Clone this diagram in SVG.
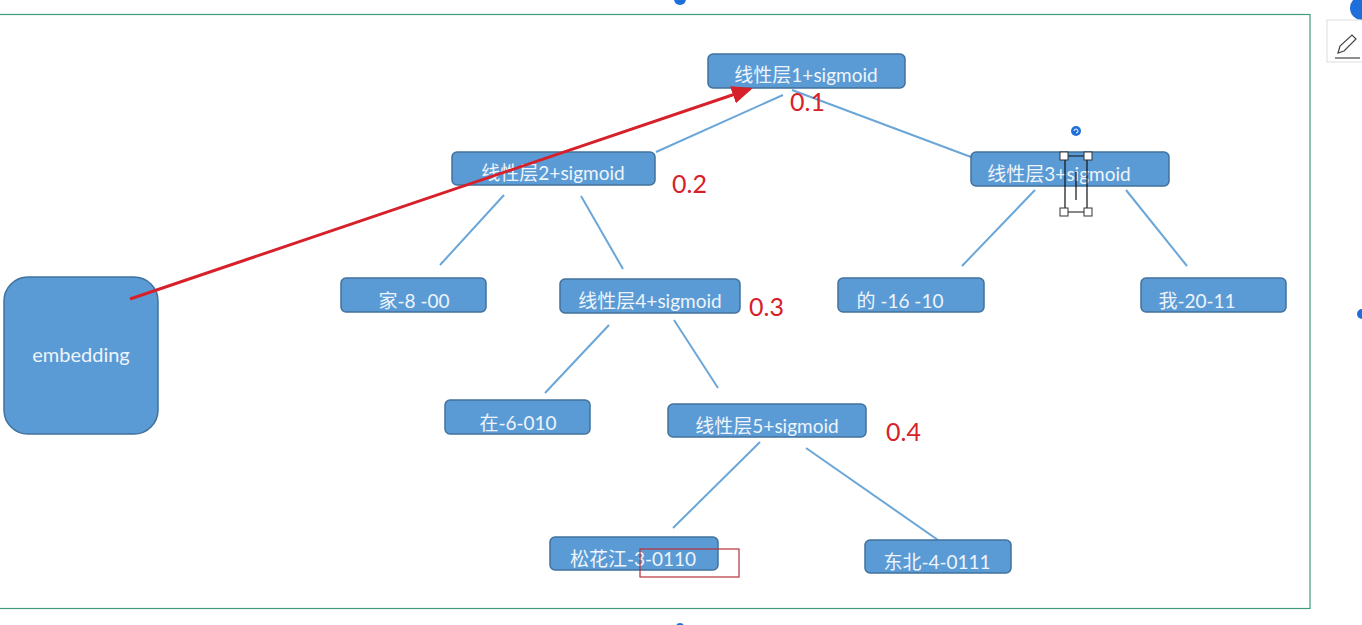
<svg xmlns="http://www.w3.org/2000/svg" width="1362" height="625" viewBox="0 0 1362 625">
<style>
.n{fill:#5b9bd5;stroke:#41719c;stroke-width:1.5}
.t{fill:#eef4fb;font-family:Lato,"Noto Sans CJK SC",sans-serif;font-size:19px;text-anchor:middle}
.c{stroke:#6aa6d8;stroke-width:2;fill:none}
.p{fill:#d7212a;font-family:Lato,"Liberation Sans",sans-serif;font-size:25px}
.h{fill:#fff;stroke:#333;stroke-width:1}
</style>
<defs>
<marker id="ah" markerWidth="7" markerHeight="6" refX="6" refY="3" orient="auto" markerUnits="strokeWidth">
<path d="M0,0 L7,3 L0,6 z" fill="#d7212a"/>
</marker>
</defs>
<rect width="1362" height="625" fill="#fff"/>
<rect x="-2" y="14.5" width="1312" height="594" fill="none" stroke="#3f9a80" stroke-width="1.2"/>
<circle cx="680" cy="-1" r="6" fill="#1e6fd9"/>
<circle cx="680" cy="627" r="4" fill="#1e6fd9"/>
<circle cx="1362" cy="314" r="5" fill="#1e6fd9"/>
<circle cx="1362" cy="8" r="12" fill="#1e6fd9"/>
<rect x="1327" y="20" width="40" height="42" fill="#fff" stroke="#ddd"/>
<path d="M1338,53 L1340,46 L1352,35 L1356,39 L1344,51 Z" fill="none" stroke="#444" stroke-width="1.2"/>
<line x1="1335" y1="58" x2="1360" y2="58" stroke="#444" stroke-width="1.2"/>

<g id="connectors">
<line class="c" x1="783" y1="95" x2="656" y2="152"/>
<line class="c" x1="792" y1="90" x2="971" y2="157"/>
<line class="c" x1="504" y1="195" x2="440" y2="265"/>
<line class="c" x1="581" y1="196" x2="623" y2="269"/>
<line class="c" x1="1035" y1="190" x2="962" y2="266"/>
<line class="c" x1="1126" y1="190" x2="1187" y2="266"/>
<line class="c" x1="609" y1="325" x2="545" y2="393"/>
<line class="c" x1="674" y1="320" x2="718" y2="388"/>
<line class="c" x1="760" y1="442" x2="673" y2="528"/>
<line class="c" x1="806" y1="448" x2="938" y2="540"/>
</g>

<g id="n1"><rect class="n" x="708" y="54" width="197" height="34" rx="5"/><text class="t" x="806" y="82">线性层1+sigmoid</text></g>
<g id="n2"><rect class="n" x="452" y="152" width="203" height="33" rx="5"/><text class="t" x="553" y="180">线性层2+sigmoid</text></g>
<g id="n3"><rect class="n" x="971" y="152" width="198" height="34" rx="5"/><text class="t" x="1059" y="181">线性层3+sigmoid</text></g>
<g id="n_jia"><rect class="n" x="341" y="278" width="145" height="34" rx="5"/><text class="t" x="414" y="308">家-8 -00</text></g>
<g id="n4"><rect class="n" x="560" y="279" width="180" height="34" rx="5"/><text class="t" x="650" y="308">线性层4+sigmoid</text></g>
<g id="n_de"><rect class="n" x="838" y="278" width="146" height="34" rx="5"/><text class="t" x="900" y="308">的 -16 -10</text></g>
<g id="n_wo"><rect class="n" x="1141" y="278" width="145" height="34" rx="5"/><text class="t" x="1197" y="308">我-20-11</text></g>
<g id="n_zai"><rect class="n" x="445" y="400" width="145" height="34" rx="5"/><text class="t" x="518" y="430">在-6-010</text></g>
<g id="n5"><rect class="n" x="668" y="404" width="198" height="33" rx="5"/><text class="t" x="767" y="433">线性层5+sigmoid</text></g>
<g id="n_song"><rect class="n" x="550" y="537" width="168" height="33" rx="5"/><text class="t" x="633" y="566">松花江-3-0110</text></g>
<g id="n_dong"><rect class="n" x="865" y="540" width="146" height="33" rx="5"/><text class="t" x="937" y="569">东北-4-0111</text></g>
<g id="n_emb"><rect class="n" x="4" y="277" width="154" height="157" rx="24"/><text class="t" x="81" y="362" style="font-size:20px">embedding</text></g>

<g id="arrow">
<line x1="130" y1="299" x2="750" y2="89" stroke="#d7212a" stroke-width="3" marker-end="url(#ah)"/>
</g>

<g id="probs">
<text class="p" x="790" y="111">0.1</text>
<text class="p" x="672" y="193">0.2</text>
<text class="p" x="749" y="316">0.3</text>
<text class="p" x="886" y="441">0.4</text>
</g>

<rect x="640" y="549" width="99" height="28" fill="none" stroke="#b8313a" stroke-width="1.2"/>

<g id="selection">
<path d="M1064,156 H1088 M1064,212 H1088 M1065,156 V212 M1087,156 V212 M1076,172 V200" stroke="#111" stroke-width="1.2" fill="none"/>
<rect class="h" x="1060" y="152" width="8" height="8" fill="#777"/>
<rect class="h" x="1084" y="152" width="8" height="8" fill="#777"/>
<rect class="h" x="1060" y="208" width="8" height="8"/>
<rect class="h" x="1084" y="208" width="8" height="8"/>
<circle cx="1076" cy="131" r="5" fill="#1e6fd9"/>
<path d="M1076,131 m-2,0 a2,2 0 1,1 2,2" stroke="#fff" stroke-width="1" fill="none"/>
</g>
</svg>
